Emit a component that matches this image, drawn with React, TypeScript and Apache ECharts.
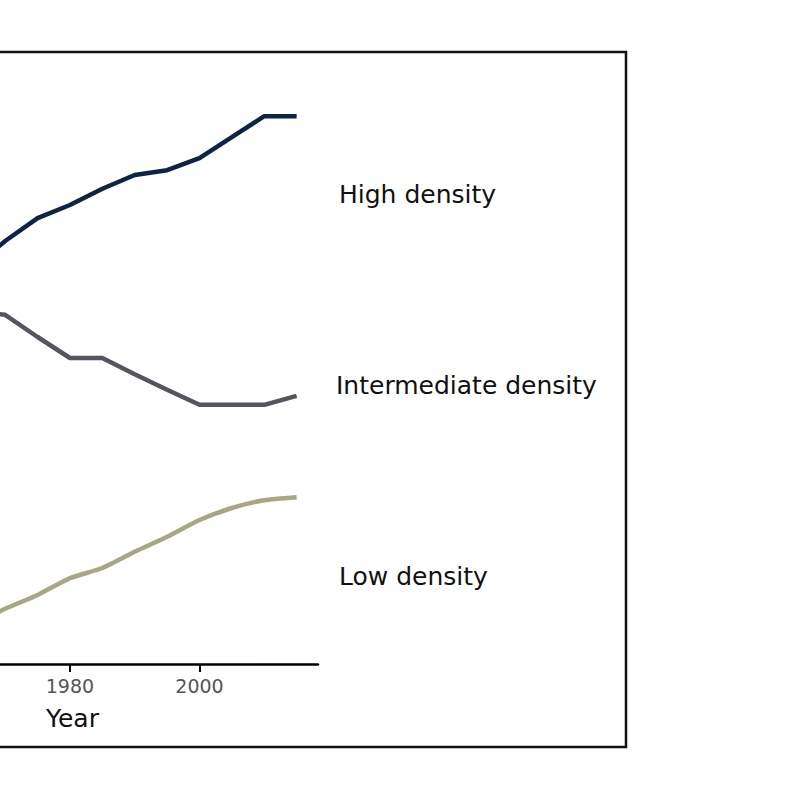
import React, { useEffect, useRef } from "react";
import * as echarts from "echarts";

const years = [1965, 1970, 1975, 1980, 1985, 1990, 1995, 2000, 2005, 2010, 2015];
const highDensity = [66.0, 70.5, 74.3, 76.5, 79.2, 81.5, 82.3, 84.3, 87.8, 91.3, 91.3];
const intermediateDensity = [58.8, 58.2, 54.5, 51.0, 51.0, 48.3, 45.7, 43.2, 43.2, 43.2, 44.7];
const lowDensity = [6.5, 9.2, 11.5, 14.3, 16.0, 18.7, 21.2, 24.0, 26.0, 27.3, 27.8];
const tickYears = [1980, 2000];
const seriesNames = ["High density", "Intermediate density", "Low density"];

export default function App() {
  const ref = useRef<HTMLDivElement>(null);
  useEffect(() => {
    if (!ref.current) return;
    const chart = echarts.init(ref.current, null, { renderer: "svg" });
    const pair = (vals: number[]) => years.map((y, i) => [y, vals[i]]);
    const font = "DejaVu Sans";
    chart.setOption({
      animation: false,
      backgroundColor: "#ffffff",
      grid: {
        left: 0,
        right: 482,
        top: 64,
        bottom: 136,
        containLabel: false,
        outerBoundsMode: "none",
      },
      xAxis: {
        type: "value",
        min: 1969.2,
        max: 2018.3,
        axisLine: { show: true, lineStyle: { color: "#000", width: 2.5 } },
        axisTick: {
          show: true,
          length: 8,
          lineStyle: { color: "#000", width: 2 },
          customValues: tickYears,
        },
        axisLabel: {
          show: true,
          customValues: tickYears,
          color: "#555555",
          fontSize: 19,
          fontFamily: font,
          margin: 12,
          formatter: (v: number) => String(v),
        },
        splitLine: { show: false },
      },
      yAxis: {
        type: "value",
        min: 0,
        max: 100,
        show: false,
        splitLine: { show: false },
      },
      series: [
        {
          name: seriesNames[0],
          type: "line",
          data: pair(highDensity),
          showSymbol: false,
          lineStyle: { color: "#0e2345", width: 4.5 },
          itemStyle: { color: "#0e2345" },
          clip: true,
        },
        {
          name: seriesNames[1],
          type: "line",
          data: pair(intermediateDensity),
          showSymbol: false,
          lineStyle: { color: "#54565f", width: 4.5 },
          itemStyle: { color: "#54565f" },
          clip: true,
        },
        {
          name: seriesNames[2],
          type: "line",
          data: pair(lowDensity),
          showSymbol: false,
          smooth: 0.2,
          lineStyle: { color: "#a9a688", width: 4.5 },
          itemStyle: { color: "#a9a688" },
          clip: true,
        },
      ],
      graphic: [
        {
          type: "rect",
          shape: { x: -10, y: 52, width: 636, height: 695 },
          style: { fill: "none", stroke: "#111", lineWidth: 2.5 },
          silent: true,
        },
        {
          type: "text",
          x: 339,
          y: 194,
          style: { text: seriesNames[0], font: `25px '${font}'`, fill: "#111", textAlign: "left", textVerticalAlign: "middle" },
        },
        {
          type: "text",
          x: 336,
          y: 385,
          style: { text: seriesNames[1], font: `25px '${font}'`, fill: "#111", textAlign: "left", textVerticalAlign: "middle" },
        },
        {
          type: "text",
          x: 339,
          y: 576,
          style: { text: seriesNames[2], font: `25px '${font}'`, fill: "#111", textAlign: "left", textVerticalAlign: "middle" },
        },
        {
          type: "text",
          x: 72.5,
          y: 718,
          style: { text: "Year", font: `25px '${font}'`, fill: "#111", textAlign: "center", textVerticalAlign: "middle" },
        },
      ],
    });
    return () => chart.dispose();
  }, []);
  return (
    <div
      ref={ref}
      style={{ position: "absolute", left: 0, top: 0, width: 800, height: 800 }}
    />
  );
}
